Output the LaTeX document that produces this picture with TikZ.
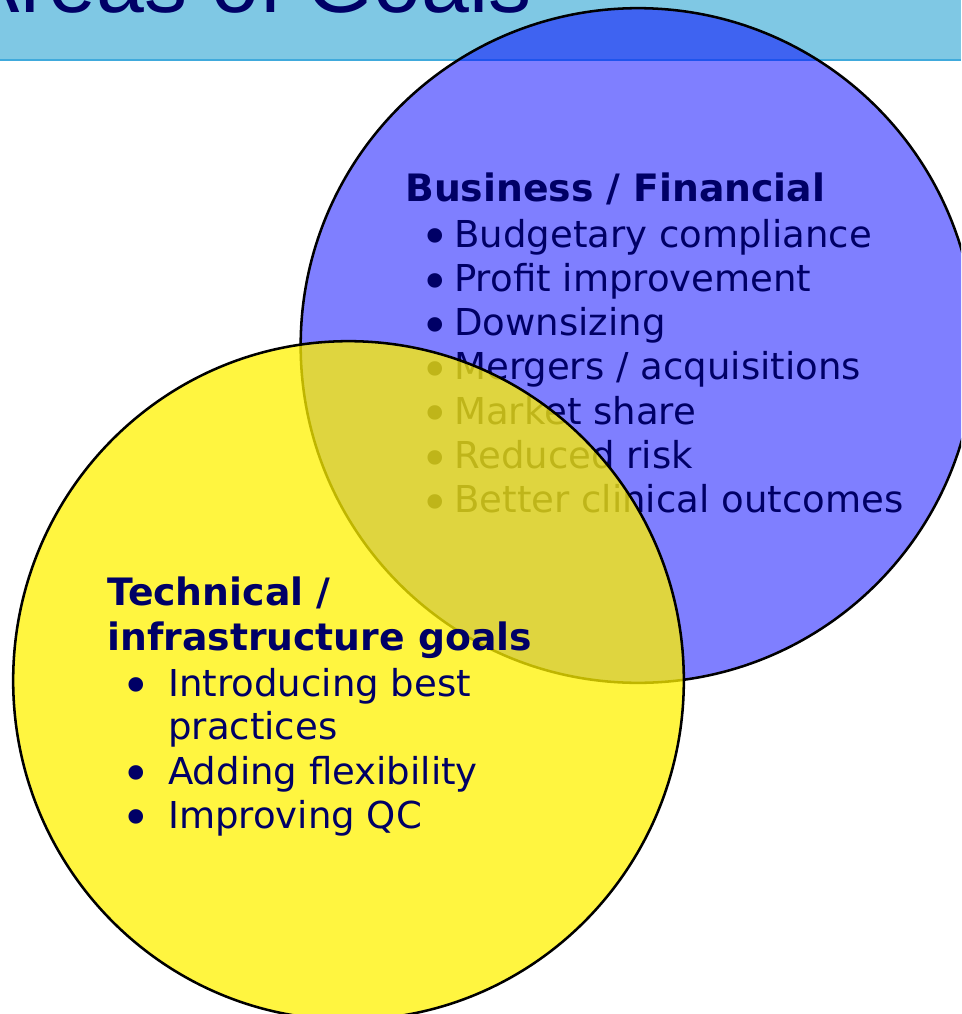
\documentclass[tikz,border=0pt]{standalone}
\usepackage{fontspec}
\usepackage{graphicx}
\setmainfont{DejaVu Sans}
\newfontfamily\titlefont{Liberation Sans}
\usetikzlibrary{positioning,shapes.geometric}

\definecolor{banner}{RGB}{127,200,228}
\definecolor{bannerline}{RGB}{64,170,220}
\definecolor{navy}{RGB}{0,0,102}

\newcommand\bigdot{\smash{\raisebox{-5.8pt}{\scalebox{1.35}{\textbullet}}}}
\newcommand\bizdot{\llap{\bigdot\hspace{2.9pt}}}
\newcommand\techdot{\llap{\bigdot\hspace{13.3pt}}}

\begin{document}
\begin{tikzpicture}[x=0.75pt,y=-0.75pt,line width=1.9pt,
    goal/.style={draw=black,inner sep=0pt},
    head/.style={anchor=base west,inner sep=0pt,text=navy,font=\fontsize{28.3}{32}\selectfont\bfseries},
    item/.style={anchor=base west,inner sep=0pt,text=navy,font=\fontsize{27.8}{32}\selectfont}]
  \clip (0,0) rectangle (961,1014);

  % title bar
  \fill[banner] (0,0) rectangle (961,59);
  \draw[bannerline,line width=1.6pt] (0,60) -- (961,60);
  \node[anchor=base east,inner sep=0pt,text=navy,font=\titlefont\fontsize{64.5}{70}\selectfont] (title) at (533,12) {Areas of Goals};

  % business circle
  \node[goal,circle,fill=blue,fill opacity=0.5,minimum size=506pt] (biz) at (638,345.5) {};
  \node[head] (bizhead) at (404,201) {Business / Financial};
  \node[below right=34.5pt and 36.75pt of bizhead.base west,item] (biz1) {\bizdot Budgetary compliance};
  \node[below=33.2pt of biz1.base west,item] (biz2) {\bizdot Profit improvement};
  \node[below=33.2pt of biz2.base west,item] (biz3) {\bizdot Downsizing};
  \node[below=33.2pt of biz3.base west,item] (biz4) {\bizdot Mergers / acquisitions};
  \node[below=33.2pt of biz4.base west,item] (biz5) {\bizdot Market share};
  \node[below=33.2pt of biz5.base west,item] (biz6) {\bizdot Reduced risk};
  \node[below=33.2pt of biz6.base west,item] (biz7) {\bizdot Better clinical outcomes};

  % technical circle
  \node[goal,ellipse,fill=yellow,fill opacity=0.75,minimum width=503pt,minimum height=509pt] (tech) at (348.5,680.5) {};
  \node[head] (techhead) at (106,605) {Technical /};
  \node[below=33.75pt of techhead.base west,head] (techhead2) {infrastructure goals};
  \node[below right=34.5pt and 45.75pt of techhead2.base west,item] (tech1) {\techdot Introducing best};
  \node[below=32.25pt of tech1.base west,item] (tech1b) {practices};
  \node[below=33.75pt of tech1b.base west,item] (tech2) {\techdot Adding flexibility};
  \node[below=33pt of tech2.base west,item] (tech3) {\techdot Improving QC};
\end{tikzpicture}
\end{document}
